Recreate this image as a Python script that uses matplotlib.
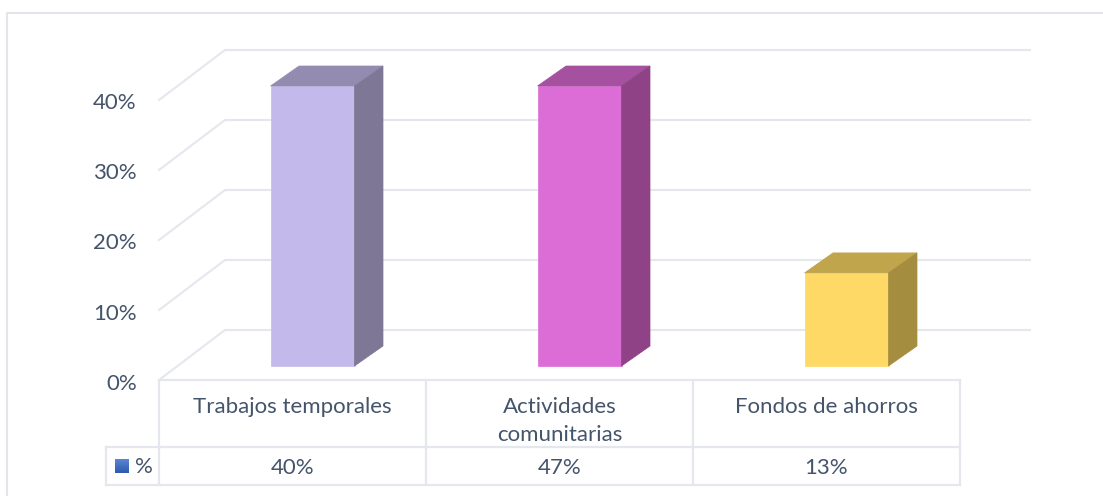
import matplotlib
matplotlib.use("Agg")
import matplotlib.pyplot as plt
import numpy as np
from matplotlib.lines import Line2D
from matplotlib.patches import Polygon
from matplotlib.colors import LinearSegmentedColormap
from matplotlib.transforms import ScaledTranslation

plt.rcParams['font.family'] = ['Lato', 'DejaVu Sans']

categories = ["Trabajos temporales", "Actividades\ncomunitarias", "Fondos de ahorros"]
values = [40, 47, 13.3]
table_labels = ["40%", "47%", "13%"]
series_name = "%"
y_ticks = [0, 10, 20, 30, 40]
y_tick_labels = ["0%", "10%", "20%", "30%", "40%"]
front_colors = ["#c3baeb", "#dd6dd6", "#ffd966"]
top_colors = ["#948cb0", "#a650a0", "#c0a54d"]
side_colors = ["#7e7896", "#8f4286", "#a58d3f"]

W, H = 1103, 496
GRID = "#e5e7ee"
TEXT = "#44546a"
FS = 16
fig = plt.figure(figsize=(W / 100, H / 100), dpi=100, facecolor="white")

# plot-area in pixels
L, R, B, T = 159, 960, 380, 100
ax = fig.add_axes([L / W, 1 - B / H, (R - L) / W, (B - T) / H])
ax.set_xlim(0, 3)
ax.set_ylim(0, 40)
ax.patch.set_alpha(0)
for s in ax.spines.values():
    s.set_visible(False)
ax.set_xticks([])
ax.set_yticks(y_ticks)
ax.set_yticklabels(y_tick_labels, fontsize=FS, color=TEXT)
ax.tick_params(axis="y", length=0, pad=16)
for lab in ax.get_yticklabels():
    lab.set_transform(lab.get_transform() + ScaledTranslation(0, -1.5 / 100, fig.dpi_scale_trans))

px = 3 / (R - L)      # x data units per pixel
py = 40 / (B - T)     # y data units per pixel

# frame (top and left only)
fig.add_artist(Line2D([7 / W, 7 / W, 1], [0, 1 - 13 / H, 1 - 13 / H],
                      transform=fig.transFigure, color="#e2e5ea", lw=1.5))

# walls: diagonal gridlines and back gridlines
wall_dx, wall_dy = 66 * px, 50 * py
back_right = (1030 - L) * px
for t in y_ticks:
    ax.plot([0, wall_dx, back_right], [t, t + wall_dy, t + wall_dy],
            color=GRID, lw=1.5, clip_on=False, zorder=1, solid_joinstyle="miter")

# 3-D bars (clipped to the axis maximum)
bar_off, bar_w = 111.5 * px, 84 * px
floor = 14 * py
dx, dy = 28.5 * px, 20 * py
ymax = y_ticks[-1]
for i, v in enumerate(values):
    h = min(v, ymax)
    x0, x1 = i + bar_off, i + bar_off + bar_w
    y0, y1 = floor, h + floor
    kw = dict(clip_on=False, zorder=3, lw=0.5)
    ax.add_patch(Polygon([(x0, y0), (x1, y0), (x1, y1), (x0, y1)],
                         fc=front_colors[i], ec=front_colors[i], **kw))
    ax.add_patch(Polygon([(x0, y1), (x1, y1), (x1 + dx, y1 + dy), (x0 + dx, y1 + dy)],
                         fc=top_colors[i], ec=top_colors[i], **kw))
    ax.add_patch(Polygon([(x1, y0), (x1 + dx, y0 + dy), (x1 + dx, y1 + dy), (x1, y1)],
                         fc=side_colors[i], ec=side_colors[i], **kw))

# data table
row1 = -(447 - B) * py
row2 = -(485 - B) * py
leg_l = (106 - L) * px
tk = dict(color=GRID, lw=1.6, clip_on=False, zorder=2, solid_capstyle="projecting")
ax.plot([0, 3], [0, 0], **tk)
ax.plot([leg_l, 3], [row1, row1], **tk)
ax.plot([leg_l, 3], [row2, row2], **tk)
for x in range(4):
    ax.plot([x, x], [0, row2], **tk)
ax.plot([leg_l, leg_l], [row1, row2], **tk)

for i, (c, t) in enumerate(zip(categories, table_labels)):
    ax.text(i + 0.5, -(397 - B) * py, c, ha="center", va="top", fontsize=FS, color=TEXT,
            linespacing=1.5, clip_on=False)
    ax.text(i + 0.5, -(468 - B) * py, t, ha="center", va="center", fontsize=FS, color=TEXT,
            clip_on=False)

# legend key with gradient
key = fig.add_axes([115 / W, 1 - 473 / H, 14 / W, 14 / H])
key.imshow(np.linspace(0, 1, 14)[:, None], aspect="auto",
           cmap=LinearSegmentedColormap.from_list("k", ["#5b83d3", "#2f5cb0"]))
key.axis("off")
ax.text((135 - L) * px, -(467 - B) * py, series_name, ha="left", va="center",
        fontsize=FS, color=TEXT, clip_on=False)

fig.savefig("out.png", dpi=100, facecolor="white")
